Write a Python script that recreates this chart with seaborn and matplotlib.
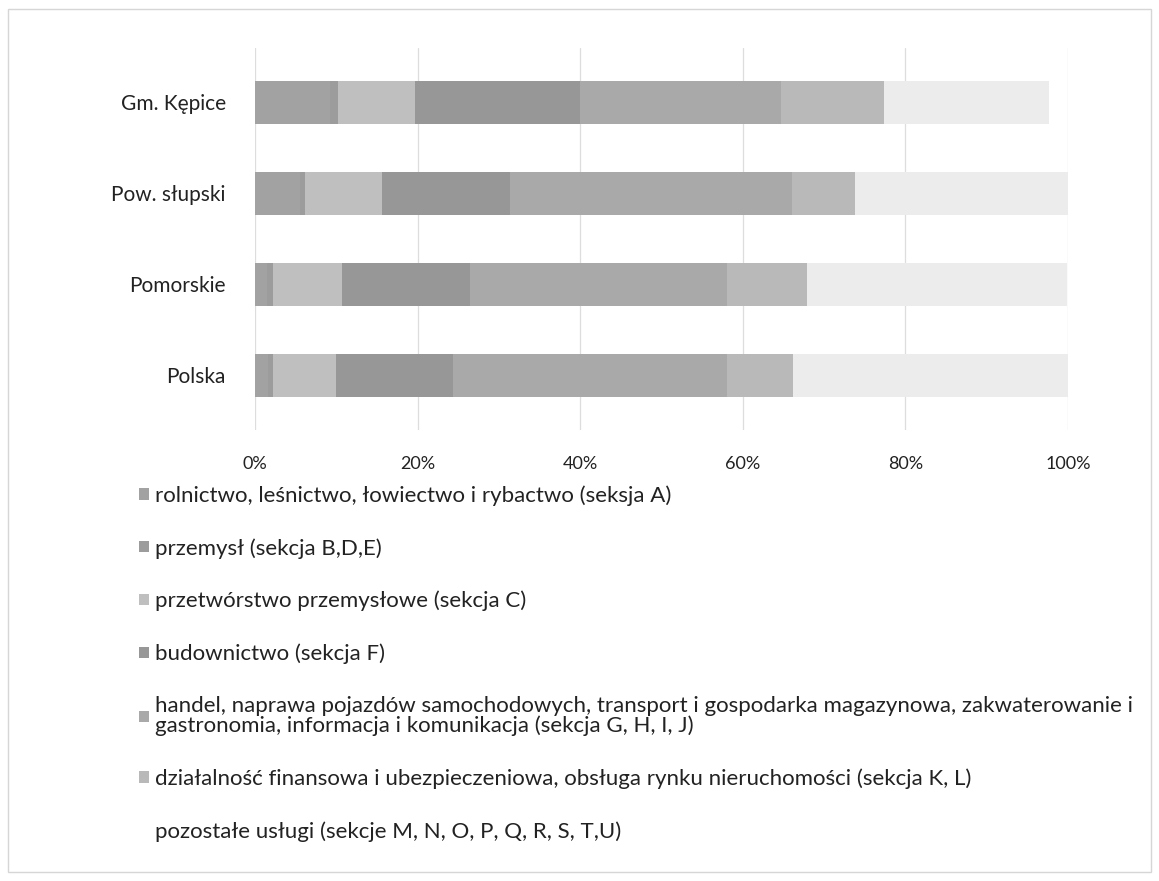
import numpy as np
import pandas as pd
import matplotlib
matplotlib.use("Agg")
import matplotlib.pyplot as plt
from matplotlib.patches import Patch, Rectangle
import seaborn as sns

# ── DATA ──────────────────────────────────────────────────────
regions = ["Gm. Kępice", "Pow. słupski", "Pomorskie", "Polska"]

sections = [
    "rolnictwo, leśnictwo, łowiectwo i rybactwo (seksja A)",
    "przemysł (sekcja B,D,E)",
    "przetwórstwo przemysłowe (sekcja C)",
    "budownictwo (sekcja F)",
    "handel, naprawa pojazdów samochodowych, transport i gospodarka magazynowa, zakwaterowanie i\n"
    "gastronomia, informacja i komunikacja (sekcja G, H, I, J)",
    "działalność finansowa i ubezpieczeniowa, obsługa rynku nieruchomości (sekcja K, L)",
    "pozostałe usługi (sekcje M, N, O, P, Q, R, S, T,U)",
]

# shares in %, one list per section, in region order
sec_a = [9.2, 5.5, 1.5, 1.6]
sec_bde = [1.0, 0.7, 0.7, 0.6]
sec_c = [9.5, 9.4, 8.5, 7.8]
sec_f = [20.3, 15.8, 15.7, 14.4]
sec_ghij = [24.7, 34.7, 31.7, 33.6]
sec_kl = [12.7, 7.7, 9.8, 8.2]
sec_other = [20.2, 26.2, 32.0, 33.9]

colors = ["#a2a2a2", "#9c9c9c", "#bfbfbf", "#979797", "#a9a9a9", "#b9b9b9", "#ececec"]

df = pd.DataFrame(
    [sec_a, sec_bde, sec_c, sec_f, sec_ghij, sec_kl, sec_other],
    index=sections, columns=regions,
).T
cum = df.cumsum(axis=1)

# ── PLOT ──────────────────────────────────────────────────────
sns.set_style("white")
plt.rcParams["font.family"] = ["Lato", "DejaVu Sans"]

fig = plt.figure(figsize=(11.59, 8.81), dpi=100)
ax = fig.add_axes([0.220, 0.512, 0.7015, 0.434])

# stacked bars: draw cumulative totals from the last section backwards
for i in range(len(sections) - 1, -1, -1):
    sns.barplot(
        x=cum.iloc[:, i].values,
        y=regions,
        orient="h",
        color=colors[i],
        saturation=1,
        width=0.47,
        linewidth=0,
        edgecolor="none",
        ax=ax,
    )

ax.set_xlim(0, 100)
ax.set_ylim(3.6, -0.6)
ax.set_xticks(np.arange(0, 101, 20))
ax.set_xticklabels([f"{v}%" for v in range(0, 101, 20)], fontsize=13, color="#222222")
ax.tick_params(axis="x", length=0, pad=19)
ax.tick_params(axis="y", length=0, pad=21, labelsize=15, labelcolor="#222222")
ax.set_xlabel("")
ax.set_ylabel("")
ax.grid(axis="x", color="#dddddd", linewidth=0.9)
ax.set_axisbelow(True)
for s in ax.spines.values():
    s.set_visible(False)

handles = [Patch(facecolor=c, edgecolor="none") for c in colors]
handles[-1] = Patch(facecolor="white", edgecolor="none")
leg = fig.legend(
    handles, sections,
    loc="upper left", bbox_to_anchor=(0.103, 0.472),
    frameon=False, fontsize=16,
    handlelength=0.42, handleheight=0.42, handletextpad=0.3,
    labelspacing=1.45,
)
for t in leg.get_texts():
    t.set_color("#222222")
    t.set_linespacing(0.95)

# light frame around the chart
fig.patches.append(Rectangle((0.007, 0.01), 0.986, 0.98, transform=fig.transFigure,
                             fill=False, edgecolor="#d6d6d6", linewidth=1))

fig.savefig("out.png", dpi=100)
